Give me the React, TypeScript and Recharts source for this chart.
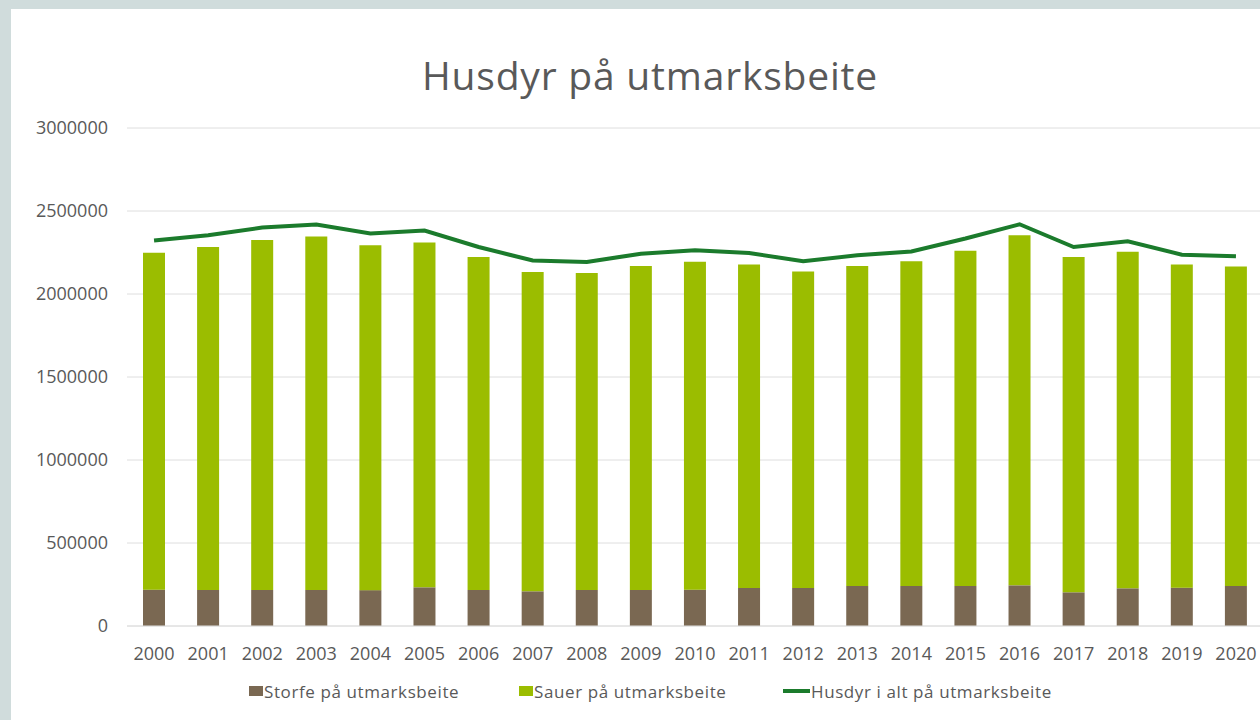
import {
  ComposedChart,
  Bar,
  Line,
  XAxis,
  YAxis,
  CartesianGrid,
  Legend,
} from 'recharts';

const years = [
  '2000', '2001', '2002', '2003', '2004', '2005', '2006', '2007', '2008', '2009', '2010',
  '2011', '2012', '2013', '2014', '2015', '2016', '2017', '2018', '2019', '2020',
];

const storfe = [
  219000, 217000, 217000, 217000, 216000, 233000, 217000, 209000, 217000, 217000, 219000,
  229000, 229000, 241000, 241000, 241000, 245000, 203000, 227000, 231000, 241000,
];

const sauer = [
  2030000, 2066000, 2108000, 2129000, 2077000, 2077000, 2006000, 1923000, 1909000, 1952000, 1976000,
  1948000, 1906000, 1928000, 1956000, 2020000, 2109000, 2020000, 2028000, 1946000, 1924000,
];

const husdyrIAlt = [
  2322000, 2354000, 2400000, 2418000, 2364000, 2382000, 2283000, 2202000, 2193000, 2243000, 2263000,
  2247000, 2197000, 2233000, 2256000, 2334000, 2420000, 2283000, 2317000, 2237000, 2227000,
];

const yTicks = [0, 500000, 1000000, 1500000, 2000000, 2500000, 3000000];

const seriesNames = {
  storfe: 'Storfe på utmarksbeite',
  sauer: 'Sauer på utmarksbeite',
  total: 'Husdyr i alt på utmarksbeite',
};

const colors = {
  storfe: '#7a6852',
  sauer: '#9bbd00',
  total: '#1b7b2c',
  text: '#595959',
  grid: '#dedede',
};

const data = years.map((year, i) => ({
  year,
  storfe: storfe[i],
  sauer: sauer[i],
  total: husdyrIAlt[i],
}));

const FONT = '"Open Sans", sans-serif';

// legend items placed where the original has them
const legendLeft = [249, 519, 783];

function ChartLegend() {
  const items = [
    { key: 'storfe', type: 'square' },
    { key: 'sauer', type: 'square' },
    { key: 'total', type: 'line' },
  ] as const;
  return (
    <div
      style={{
        position: 'relative',
        height: 30,
        fontFamily: FONT,
        fontSize: 17,
        letterSpacing: 0.6,
        color: colors.text,
      }}
    >
      {items.map((item, i) => (
        <div
          key={item.key}
          style={{
            position: 'absolute',
            left: legendLeft[i],
            top: 0,
            display: 'flex',
            alignItems: 'center',
            height: 26,
            whiteSpace: 'nowrap',
          }}
        >
          {item.type === 'square' ? (
            <span style={{ display: 'inline-block', width: 14, height: 10, background: colors[item.key], marginRight: 1 }} />
          ) : (
            <span style={{ display: 'inline-block', width: 27, height: 4, background: colors.total, marginRight: 1 }} />
          )}
          <span>{seriesNames[item.key]}</span>
        </div>
      ))}
    </div>
  );
}

export default function App() {
  return (
    <div
      style={{
        position: 'absolute',
        left: 0,
        top: 0,
        width: 1260,
        height: 720,
        overflow: 'hidden',
        background: '#d0dcdc',
      }}
    >
      <div
        style={{
          position: 'absolute',
          left: 11,
          top: 9,
          width: 1260,
          height: 720,
          background: '#ffffff',
        }}
      />
      <div
        style={{
          position: 'absolute',
          left: 0,
          top: 56,
          width: 1300,
          textAlign: 'center',
          fontFamily: FONT,
          fontSize: 39,
          letterSpacing: 0.8,
          lineHeight: '38px',
          color: colors.text,
        }}
      >
        Husdyr på utmarksbeite
      </div>
      <div style={{ position: 'absolute', left: 0, top: 0 }}>
        <ComposedChart
          width={1270}
          height={720}
          data={data}
          margin={{ top: 128, right: 7, bottom: 64, left: 7 }}
          barCategoryGap={16}
        >
          <CartesianGrid vertical={false} stroke={colors.grid} strokeWidth={1} />
          <XAxis
            dataKey="year"
            height={30}
            tickLine={false}
            axisLine={{ stroke: colors.grid }}
            tickMargin={15}
            interval={0}
            tick={{ fill: colors.text, fontSize: 18, fontFamily: FONT }}
          />
          <YAxis
            width={120}
            domain={[0, 3000000]}
            ticks={yTicks}
            tickLine={false}
            axisLine={false}
            tickMargin={13}
            tick={{ fill: colors.text, fontSize: 18, fontFamily: FONT }}
          />
          <Bar
            dataKey="storfe"
            name={seriesNames.storfe}
            stackId="a"
            fill={colors.storfe}
            barSize={22}
            isAnimationActive={false}
          />
          <Bar
            dataKey="sauer"
            name={seriesNames.sauer}
            stackId="a"
            fill={colors.sauer}
            barSize={22}
            isAnimationActive={false}
          />
          <Line
            dataKey="total"
            name={seriesNames.total}
            type="linear"
            stroke={colors.total}
            strokeWidth={4}
            dot={false}
            activeDot={false}
            isAnimationActive={false}
          />
          <Legend
            layout="vertical"
            align="center"
            verticalAlign="middle"
            wrapperStyle={{ left: 0, top: 678, width: 1260 }}
            content={() => <ChartLegend />}
          />
        </ComposedChart>
      </div>
    </div>
  );
}
